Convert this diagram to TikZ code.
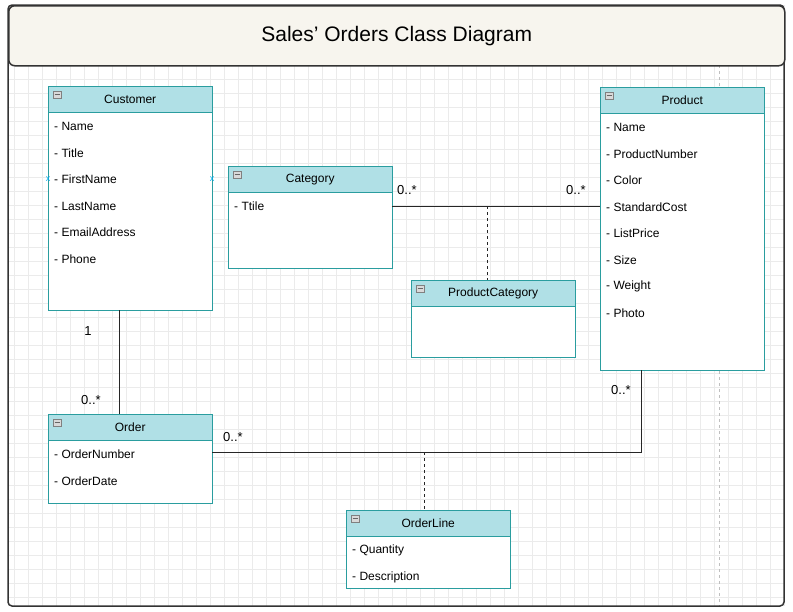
\documentclass[tikz,border=0pt]{standalone}
\usepackage{fontspec}
\setmainfont{Liberation Sans}
\usetikzlibrary{positioning}
\definecolor{hdrfill}{HTML}{B0E0E6}
\definecolor{teal2}{HTML}{2A9D9F}
\definecolor{titlefill}{HTML}{F7F5EE}
\begin{document}
\begin{tikzpicture}[
	x=1pt, y=-1pt,
	every node/.style={font=\fontsize{12}{14}\selectfont},
	hdr/.style={
		draw=teal2,
		fill=hdrfill,
		anchor=north west,
		inner sep=0pt
		},
	body/.style={
		draw=teal2,
		fill=white,
		anchor=north west,
		inner sep=0pt
		},
	attr/.style={
		anchor=west,
		inner sep=0pt
	},
	mult/.style={
		inner sep=1pt,
		font=\fontsize{13}{15}\selectfont
	},
	conn/.style={
		draw=black!85,
		thick
	},
	link/.style={
		draw=black!85,
		thick,
		dashed
	}
]
\useasboundingbox (0,0) rectangle (793,611);

% Background and grid
\fill[white] (0,0) rectangle (793,611);
\foreach \gx in {14,28,...,784} \draw[black!8] (\gx,5) -- (\gx,606);
\foreach \gy in {9,23,...,606} \draw[black!8] (8,\gy) -- (784,\gy);
\draw[black!25, dashed] (719,65) -- (719,606);
\draw[black!80, line width=1.5pt, rounded corners=4] (8,5) rectangle (784,606);
\node[draw=black!80, line width=1.5pt, rounded corners=6, fill=titlefill,
	minimum width=776, minimum height=60, anchor=north west,
	font=\fontsize{21}{25}\selectfont] (Title) at (8,5) {Sales' Orders Class Diagram};

% Classes: name, x, y, body height, title, attributes
\foreach \name/\x/\y/\h/\title/\attrs in {
	Customer/48/86/224/Customer/{Name,Title,FirstName,LastName,EmailAddress,Phone},
	Category/228/166/102/Category/{Ttile},
	Product/600/87/283/Product/{Name,ProductNumber,Color,StandardCost,ListPrice,Size,Weight,Photo},
	ProductCategory/411/280/77/ProductCategory/{},
	Order/48/414/89/Order/{OrderNumber,OrderDate},
	OrderLine/346/510/78/OrderLine/{Quantity,Description}} {
	\node[body, minimum width=164, minimum height=\h] (\name) at (\x,\y) {};
	\node[hdr, minimum width=164, minimum height=26] (\name H) at (\x,\y) {\title};
	\draw[black!50, fill=black!15] (\x+5,\y+5) rectangle (\x+13,\y+12);
	\draw[black!60] (\x+6.5,\y+8.5) -- (\x+11.5,\y+8.5);
	\foreach \a [count=\i] in \attrs {
		\node[attr] (\name A\i) at (\x+6,\y+14+26.5*\i) {- \a};
	}
}

% Associations
\draw[conn] (Category.east |- 0,206) -- (Product.west |- 0,206);
\coordinate (PCjoin) at (487,206);
\draw[link] (PCjoin) -- (PCjoin |- ProductCategoryH.north);
\node[mult] at (407,190) {0..*};
\node[mult] at (576,190) {0..*};

\draw[conn] (Customer.south -| 119,0) -- (OrderH.north -| 119,0);
\node[mult] at (88,331) {1};
\node[mult] at (91,400) {0..*};

\coordinate (OPturn) at (641,452);
\draw[conn] (Order.east |- 0,452) -- (OPturn) -- (Product.south -| 641,0);
\coordinate (OLjoin) at (424,452);
\draw[link] (OLjoin) -- (OLjoin |- OrderLineH.north);
\node[mult] at (233,437) {0..*};
\node[mult] at (621,390) {0..*};

% Selection marks
\node[text=cyan, inner sep=0pt, font=\fontsize{9}{9}\selectfont] (SelL) at (48,179) {x};
\node[text=cyan, inner sep=0pt, font=\fontsize{9}{9}\selectfont] (SelR) at (212,179) {x};
\end{tikzpicture}
\end{document}
